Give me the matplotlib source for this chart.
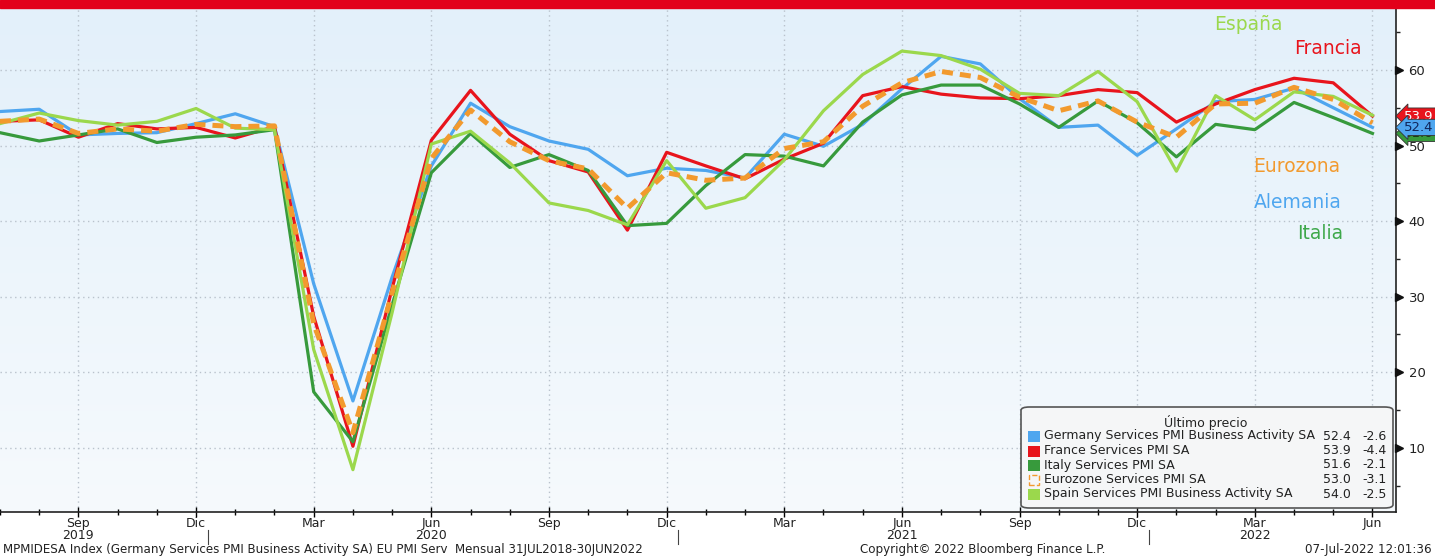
import matplotlib.pyplot as plt
import matplotlib.transforms as mtrans
import numpy as np
from matplotlib.patches import Rectangle, FancyBboxPatch
from matplotlib.lines import Line2D
from matplotlib.colors import LinearSegmentedColormap

# ---------------- DATA (monthly, Jul 2019 .. Jun 2022) ---------------- #
germany = [54.5, 54.8, 51.4, 51.6, 51.7, 52.9, 54.2, 52.5, 31.7, 16.2, 32.6, 47.3,
           55.6, 52.5, 50.6, 49.5, 46.0, 47.0, 46.7, 45.7, 51.5, 49.9, 52.8, 57.5,
           61.8, 60.8, 56.2, 52.4, 52.7, 48.7, 52.2, 55.8, 56.1, 57.6, 55.0, 52.4]
france = [53.2, 53.4, 51.1, 52.9, 52.2, 52.4, 51.0, 52.5, 27.4, 10.2, 31.1, 50.7,
          57.3, 51.5, 48.0, 46.5, 38.8, 49.1, 47.3, 45.6, 48.2, 50.3, 56.6, 57.8,
          56.8, 56.3, 56.2, 56.6, 57.4, 57.0, 53.1, 55.5, 57.4, 58.9, 58.3, 53.9]
italy = [51.7, 50.6, 51.4, 52.2, 50.4, 51.1, 51.4, 52.1, 17.4, 10.8, 28.9, 46.4,
         51.6, 47.1, 48.8, 46.7, 39.4, 39.7, 44.7, 48.8, 48.6, 47.3, 53.1, 56.7,
         58.0, 58.0, 55.5, 52.4, 55.9, 53.0, 48.5, 52.8, 52.1, 55.7, 53.7, 51.6]
eurozone = [53.2, 53.5, 51.6, 52.2, 51.9, 52.8, 52.5, 52.6, 26.4, 12.0, 30.5, 48.3,
            54.7, 50.5, 48.0, 46.9, 41.7, 46.4, 45.4, 45.7, 49.6, 50.5, 55.2, 58.3,
            59.8, 59.0, 56.4, 54.6, 55.9, 53.1, 51.1, 55.5, 55.6, 57.7, 56.1, 53.0]
spain = [52.9, 54.3, 53.3, 52.7, 53.2, 54.9, 52.3, 52.1, 23.0, 7.1, 27.9, 50.2,
         51.9, 47.7, 42.4, 41.4, 39.5, 48.0, 41.7, 43.1, 48.1, 54.6, 59.4, 62.5,
         61.9, 60.1, 56.9, 56.6, 59.8, 55.8, 46.6, 56.6, 53.4, 57.1, 56.5, 54.0]

legend_names = ["Germany Services PMI Business Activity SA", "France Services PMI SA",
                "Italy Services PMI SA", "Eurozone Services PMI SA",
                "Spain Services PMI Business Activity SA"]
legend_last = ["52.4", "53.9", "51.6", "53.0", "54.0"]
legend_chg = ["-2.6", "-4.4", "-2.1", "-3.1", "-2.5"]

tick_idx = [2, 5, 8, 11, 14, 17, 20, 23, 26, 29, 32, 35]
tick_labels = ["Sep\n2019", "Dic", "Mar", "Jun\n2020", "Sep", "Dic",
               "Mar", "Jun\n2021", "Sep", "Dic", "Mar\n2022", "Jun"]
year_breaks = [5.3, 17.3, 29.3]

# colours
c_ger = "#4fa6ef"
c_fra = "#e8141c"
c_ita = "#379a3c"
c_eur = "#f29a2e"
c_spa = "#9bd84c"

W, H = 1435, 556
plt.rcParams['font.family'] = ['DejaVu Sans']

fig = plt.figure(figsize=(W / 100, H / 100), dpi=100)

def px(x, y):
    return x / W, 1 - y / H

# red band on top
fig.patches.append(Rectangle((0, 1 - 8 / H), 1, 8 / H, transform=fig.transFigure,
                             color="#e2001a", zorder=0))

ax = fig.add_axes([0, 1 - 512 / H, 1396 / W, 504 / H])
x = np.arange(len(germany))

# background gradient
grad = np.linspace(0, 1, 256).reshape(-1, 1)
ax.imshow(grad, extent=[0, 1, 0, 1], transform=ax.transAxes, aspect='auto',
          cmap=LinearSegmentedColormap.from_list("bg", ["#f6fafd", "#e3f0fa"]),
          origin='lower', zorder=0)

ax.plot(x, germany, color=c_ger, lw=2.3, zorder=3)
ax.plot(x, france, color=c_fra, lw=2.3, zorder=3)
ax.plot(x, italy, color=c_ita, lw=2.3, zorder=3)
ax.plot(x, spain, color=c_spa, lw=2.3, zorder=3)
ax.plot(x, eurozone, color=c_eur, lw=3.6, ls=(0, (2.2, 1.4)), zorder=4)

ax.set_xlim(0, 35.6)
ax.set_ylim(1.5, 68.2)

# axes styling
for s in ["top", "left"]:
    ax.spines[s].set_visible(False)
for s in ["bottom", "right"]:
    ax.spines[s].set_color("#222222")
    ax.spines[s].set_linewidth(1.2)

ax.set_xticks(tick_idx)
ax.set_xticklabels(tick_labels, fontsize=9, color="#222222", linespacing=0.95)
ax.set_xticks(x, minor=True)
ax.tick_params(axis="x", which="major", direction="inout", length=7, width=1, pad=0)
ax.tick_params(axis="x", which="minor", direction="inout", length=5, width=1)

ax.yaxis.tick_right()
ax.set_yticks([10, 20, 30, 40, 50, 60])
ax.set_yticks([5, 15, 25, 35, 45, 55, 65], minor=True)
ax.tick_params(axis="y", which="major", length=0, labelsize=9.5, pad=9, colors="#222222")
ax.tick_params(axis="y", which="minor", direction="out", length=3, width=1, colors="#222222")

# arrow-shaped major ticks on the right axis
arrow_tr = mtrans.blended_transform_factory(ax.transAxes, ax.transData) + \
    mtrans.ScaledTranslation(3 / 100, 0, fig.dpi_scale_trans)
ax.plot([1.0] * 6, [10, 20, 30, 40, 50, 60], transform=arrow_tr, ls="none",
        marker=">", ms=5.5, color="#111111", clip_on=False, zorder=5)

ax.grid(True, which="major", color="#b9c2cc", ls=(0, (1, 2.5)), lw=1)

# year separators under the axis
for i in year_breaks:
    fig.add_artist(Line2D([(i / 35.6) * 1396 / W] * 2, [1 - 530 / H, 1 - 544 / H],
                          color="#444444", lw=0.8))

# series name labels
name_labels = [("España", 1248, 25, c_spa), ("Francia", 1328, 48, c_fra),
               ("Eurozona", 1297, 167, c_eur), ("Alemania", 1298, 203, c_ger),
               ("Italia", 1320, 233, "#3ea84a")]
for t, lx, ly, c in name_labels:
    fig.text(*px(lx, ly), t, color=c, fontsize=13.5, ha="center", va="center")

# right end value tags
tags = [(51.6, "51.6", c_ita, "#1a3b1a"), (53.9, "53.9", c_fra, "white"),
        (52.4, "52.4", c_ger, "#10255a")]
for v, t, c, tc in tags:
    ax.annotate(t, xy=(1.0, v), xycoords=("axes fraction", "data"),
                xytext=(6, 0), textcoords="offset points", fontsize=9.5, color=tc,
                va="center", ha="left", annotation_clip=False, zorder=6,
                bbox=dict(boxstyle="larrow,pad=0.12", fc=c, ec="#333333", lw=0.6))

# legend box
fig.patches.append(FancyBboxPatch(px(1021, 508), (1393 - 1021) / W, (508 - 407) / H,
                                  boxstyle="round,pad=0,rounding_size=0.006",
                                  transform=fig.transFigure, fc="#f5f6f7",
                                  ec="#555555", lw=1.2, zorder=5))
fig.text(*px(1206, 422), "Último precio", fontsize=9, ha="center", va="center",
         color="#222222", zorder=6)
leg_cols = [c_ger, c_fra, c_ita, c_eur, c_spa]
for k in range(5):
    yy = 436 + k * 14.5
    if k == 3:
        fig.patches.append(Rectangle(px(1029, yy + 5), 10 / W, 10 / H,
                                     transform=fig.transFigure, fc="none",
                                     ec=c_eur, lw=1, ls="--", zorder=6))
    else:
        fig.patches.append(Rectangle(px(1028, yy + 6), 12 / W, 11 / H,
                                     transform=fig.transFigure, fc=leg_cols[k],
                                     ec="none", zorder=6))
    fig.text(*px(1044, yy), legend_names[k], fontsize=9, ha="left", va="center",
             color="#222222", zorder=6)
    fig.text(*px(1351, yy), legend_last[k], fontsize=9, ha="right", va="center",
             color="#222222", zorder=6)
    fig.text(*px(1387, yy), legend_chg[k], fontsize=9, ha="right", va="center",
             color="#222222", zorder=6)

# footer
fig.text(*px(3, 549), "MPMIDESA Index (Germany Services PMI Business Activity SA) EU PMI Serv  "
         "Mensual 31JUL2018-30JUN2022", fontsize=8.6, ha="left", va="center", color="#222222")
fig.text(*px(983, 549), "Copyright© 2022 Bloomberg Finance L.P.", fontsize=8.6,
         ha="center", va="center", color="#222222")
fig.text(*px(1432, 549), "07-Jul-2022 12:01:36", fontsize=8.6, ha="right", va="center",
         color="#222222")

fig.savefig("out.png", dpi=100)
